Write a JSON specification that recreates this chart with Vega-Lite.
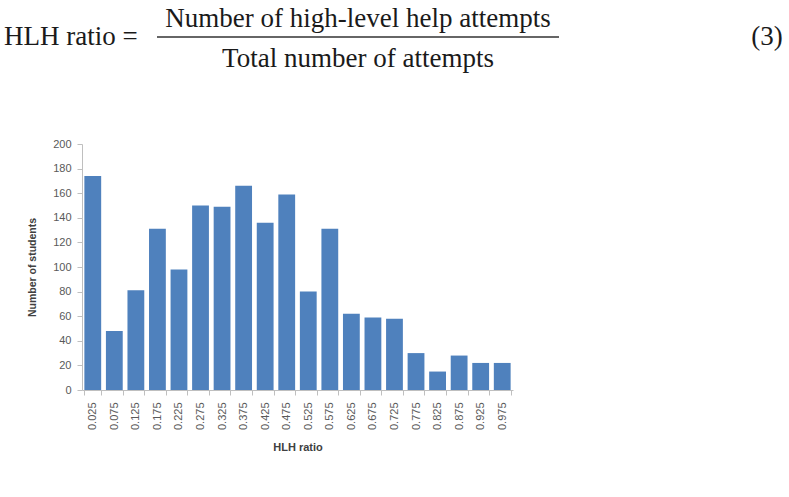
{
  "$schema": "https://vega.github.io/schema/vega-lite/v6.json",
  "width": 431,
  "height": 246,
  "autosize": "none",
  "padding": {"left": 82, "top": 144, "right": 276, "bottom": 107},
  "background": "white",
  "config": {"view": {"stroke": null}},
  "layer": [
    {
      "data": {"values": [
        {"ratio": "0.025", "students": 174},
        {"ratio": "0.075", "students": 48},
        {"ratio": "0.125", "students": 81},
        {"ratio": "0.175", "students": 131},
        {"ratio": "0.225", "students": 98},
        {"ratio": "0.275", "students": 150},
        {"ratio": "0.325", "students": 149},
        {"ratio": "0.375", "students": 166},
        {"ratio": "0.425", "students": 136},
        {"ratio": "0.475", "students": 159},
        {"ratio": "0.525", "students": 80},
        {"ratio": "0.575", "students": 131},
        {"ratio": "0.625", "students": 62},
        {"ratio": "0.675", "students": 59},
        {"ratio": "0.725", "students": 58},
        {"ratio": "0.775", "students": 30},
        {"ratio": "0.825", "students": 15},
        {"ratio": "0.875", "students": 28},
        {"ratio": "0.925", "students": 22},
        {"ratio": "0.975", "students": 22}
      ]},
      "mark": {"type": "bar", "color": "#4F81BD"},
      "encoding": {
        "x": {
          "field": "ratio", "type": "nominal", "sort": null,
          "scale": {"paddingInner": 0.22, "paddingOuter": 0.11},
          "axis": {
            "title": "HLH ratio", "titleFont": "Liberation Sans", "titleFontSize": 11, "titleFontWeight": "bold",
            "titleColor": "#404040", "titlePadding": 12,
            "labelAngle": -90, "labelFont": "Liberation Sans", "labelFontSize": 11, "labelColor": "#595959",
            "labelPadding": 7, "tickBand": "extent", "tickSize": 5, "tickColor": "#BFBFBF",
            "domainColor": "#BFBFBF", "grid": false
          }
        },
        "y": {
          "field": "students", "type": "quantitative",
          "scale": {"domain": [0, 200], "nice": false},
          "axis": {
            "title": "Number of students", "titleFont": "Liberation Sans", "titleFontSize": 10.5, "titleFontWeight": "bold",
            "titleColor": "#404040", "titlePadding": 15,
            "values": [0, 20, 40, 60, 80, 100, 120, 140, 160, 180, 200],
            "labelFont": "Liberation Sans", "labelFontSize": 11, "labelColor": "#595959", "labelPadding": 6,
            "tickSize": 5, "tickColor": "#BFBFBF", "domainColor": "#BFBFBF", "grid": false
          }
        }
      }
    },
    {
      "data": {"values": [{"term": "Number of high-level help attempts"}]},
      "mark": {"type": "text", "font": "Liberation Serif", "fontSize": 27, "color": "#1a1a1a", "align": "center", "baseline": "alphabetic"},
      "encoding": {"text": {"field": "term"}, "x": {"value": 276}, "y": {"value": -117}}
    },
    {
      "data": {"values": [{"term": "Total number of attempts"}]},
      "mark": {"type": "text", "font": "Liberation Serif", "fontSize": 27, "color": "#1a1a1a", "align": "center", "baseline": "alphabetic"},
      "encoding": {"text": {"field": "term"}, "x": {"value": 276}, "y": {"value": -77}}
    },
    {
      "data": {"values": [{"term": "HLH ratio ="}]},
      "mark": {"type": "text", "font": "Liberation Serif", "fontSize": 27, "color": "#1a1a1a", "align": "left", "baseline": "alphabetic"},
      "encoding": {"text": {"field": "term"}, "x": {"value": -78}, "y": {"value": -99}}
    },
    {
      "data": {"values": [{"term": "(3)"}]},
      "mark": {"type": "text", "font": "Liberation Serif", "fontSize": 27, "color": "#1a1a1a", "align": "center", "baseline": "alphabetic"},
      "encoding": {"text": {"field": "term"}, "x": {"value": 685}, "y": {"value": -99}}
    },
    {
      "data": {"values": [{"term": "fraction bar"}]},
      "mark": {"type": "rule", "color": "#333333", "strokeWidth": 1.6},
      "encoding": {"x": {"value": 75}, "x2": {"value": 477}, "y": {"value": -107}}
    }
  ]
}
